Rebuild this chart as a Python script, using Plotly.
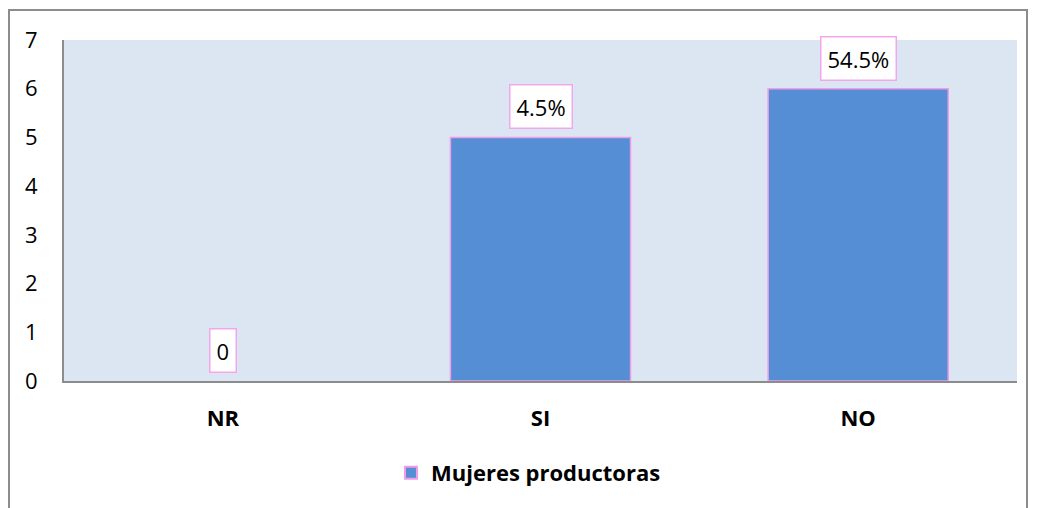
import plotly.graph_objects as go

categories = ["NR", "SI", "NO"]
values = [0, 5, 6]
labels = ["0", "4.5%", "54.5%"]
series_name = "Mujeres productoras"

# page body has an 8px margin, so the figure is drawn at (8, 8)
W, H = 1029, 500
L, R, T, B = 56, 20, 32, 127
pw, ph = W - L - R, H - T - B

FONT = "Open Sans"

fig = go.Figure()
fig.add_trace(go.Bar(
    x=categories, y=values, name=series_name,
    marker=dict(color="#558ED5",
                line=dict(color="#F09CE6", width=[0 if v == 0 else 1.5 for v in values])),
    width=0.567, showlegend=True,
))

for c, v, t in zip(categories, values, labels):
    fig.add_annotation(
        x=c, y=v, text=t, showarrow=False, yanchor="bottom", yshift=8,
        font=dict(family=FONT, size=22, color="#000000"),
        bgcolor="#FFFFFF", bordercolor="#F4A6EC", borderwidth=1.5, borderpad=6,
    )

def px(x):
    return (x - L) / pw

def py(y):
    return (H - B - y) / ph

# outer chart border
fig.add_shape(type="rect", xref="paper", yref="paper",
              x0=px(1), x1=px(1019), y0=py(530), y1=py(2),
              line=dict(color="#8C8C8C", width=2), layer="below")

fig.update_layout(
    width=W, height=H,
    margin=dict(l=L, r=R, t=T, b=B),
    paper_bgcolor="#FFFFFF", plot_bgcolor="#DCE6F2",
    font=dict(family=FONT, size=22, color="#000000"),
    bargap=0.433,
    legend=dict(orientation="h", x=0.5 - 12 / pw, xanchor="center", y=py(465), yanchor="middle",
                font=dict(family=FONT, size=22, color="#000000", weight="bold"),
                itemsizing="constant"),
    yaxis=dict(range=[0, 7], dtick=1, showgrid=False, zeroline=False,
               showline=True, linecolor="#8C8C8C", linewidth=2,
               ticks="", ticklabelstandoff=20, tickfont=dict(size=22)),
    xaxis=dict(showline=True, linecolor="#8C8C8C", linewidth=2, ticks="",
               tickfont=dict(size=22, weight="bold"), ticklabelstandoff=17),
)

fig.write_html("out.html")
